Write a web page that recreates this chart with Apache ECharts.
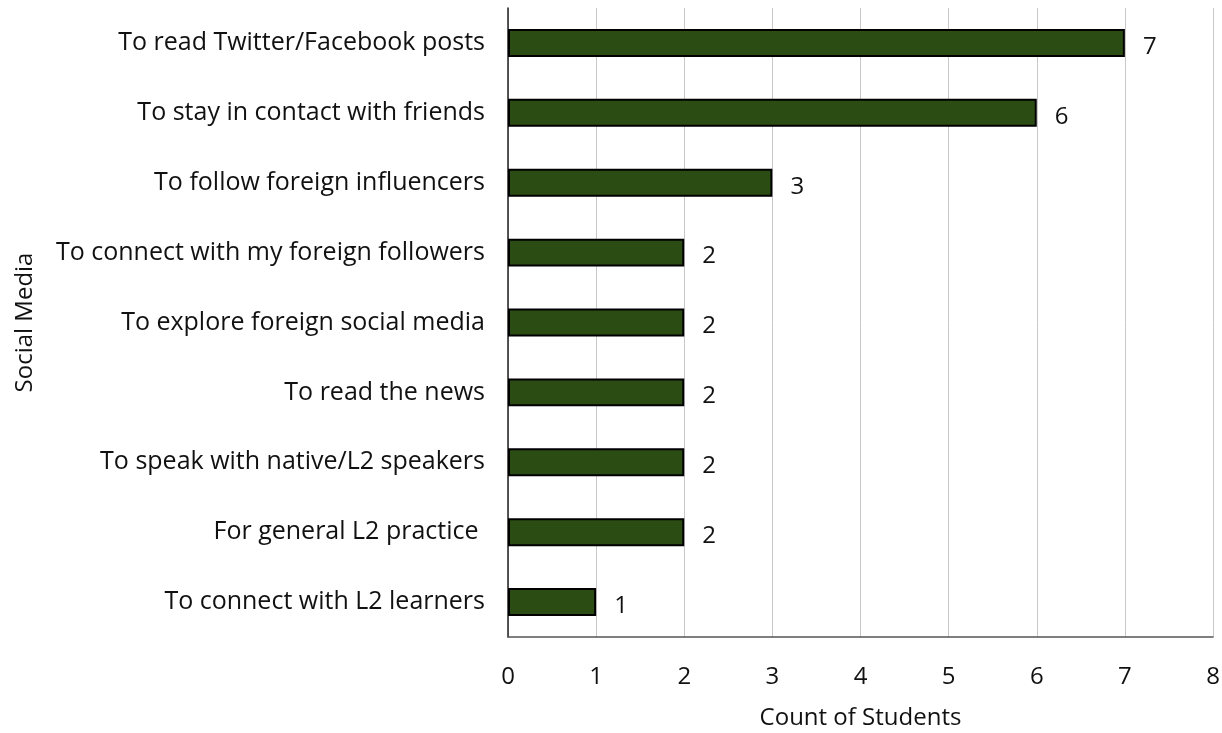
<!DOCTYPE html>
<html><head><meta charset="utf-8">
<script src="https://cdn.jsdelivr.net/npm/echarts@6/dist/echarts.min.js"></script>
<style>html,body{margin:0;padding:0;background:#fff}#c{width:1222px;height:733px}</style>
</head><body><div id="c"></div>
<script>
const categories = [
  "To read Twitter/Facebook posts",
  "To stay in contact with friends",
  "To follow foreign influencers",
  "To connect with my foreign followers",
  "To explore foreign social media",
  "To read the news",
  "To speak with native/L2 speakers",
  "For general L2 practice ",
  "To connect with L2 learners"
];
const counts = [7, 6, 3, 2, 2, 2, 2, 2, 1];
const xTicks = [0, 1, 2, 3, 4, 5, 6, 7, 8];

const font = "Open Sans";
const chart = echarts.init(document.getElementById('c'), null, {renderer: 'canvas'});
chart.setOption({
  animation: false,
  grid: {left: 508, right: 9, top: 8, bottom: 96, containLabel: false, outerBoundsMode: 'none'},
  xAxis: {
    type: 'value', min: xTicks[0], max: xTicks[xTicks.length - 1], interval: 1,
    name: 'Count of Students', nameLocation: 'middle', nameGap: 69,
    nameTextStyle: {fontFamily: font, fontSize: 24, color: '#111'},
    axisLine: {show: true, lineStyle: {color: '#555', width: 1.5}},
    axisTick: {show: false},
    axisLabel: {fontFamily: font, fontSize: 24, color: '#111', margin: 28},
    splitLine: {show: true, lineStyle: {color: '#c8c8c8', width: 1}}
  },
  yAxis: {
    type: 'category', data: categories, inverse: true,
    name: 'Social Media', nameLocation: 'middle', nameGap: 471, nameRotate: 90,
    nameTextStyle: {fontFamily: font, fontSize: 24, color: '#111'},
    axisLine: {show: true, lineStyle: {color: '#222', width: 1.5}},
    axisTick: {show: false},
    axisLabel: {fontFamily: font, fontSize: 25, color: '#111', margin: 23}
  },
  series: [{
    type: 'bar', data: counts, barCategoryGap: '60%',
    itemStyle: {color: '#2b4d14', borderColor: '#000', borderWidth: 2},
    label: {show: true, position: 'right', distance: 18, fontFamily: font, fontSize: 24, color: '#111', offset: [0, 4]}
  }]
});
</script></body></html>
